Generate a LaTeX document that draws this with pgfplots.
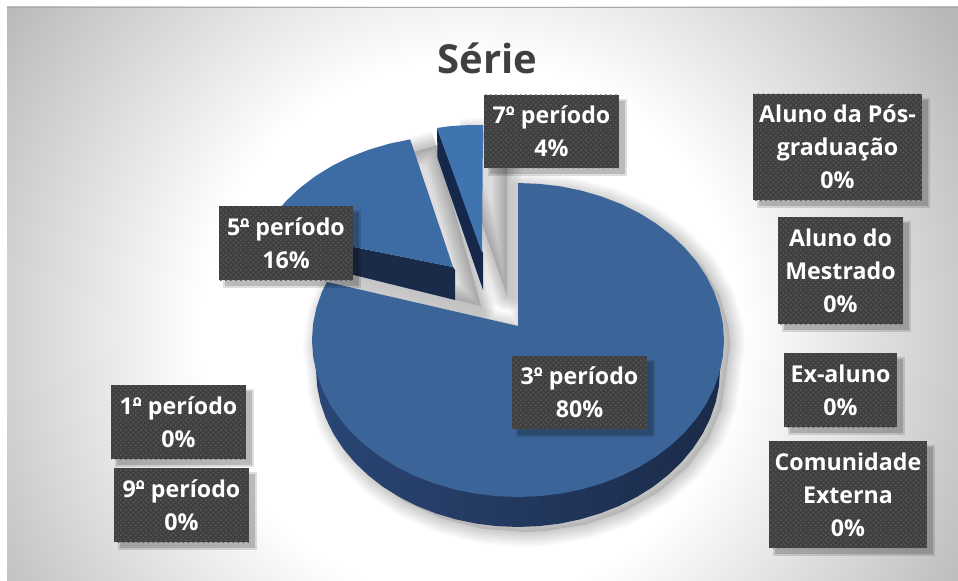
\documentclass[border=0pt]{standalone}
\usepackage{fontspec}
\setmainfont{Open Sans}
\usepackage{pgfplots}
\usepackage{pgfplotstable}
\pgfplotsset{compat=1.18}
\usetikzlibrary{patterns}
\definecolor{topmain}{HTML}{3B6599}
\definecolor{topfive}{HTML}{3D6BA3}
\definecolor{topseven}{HTML}{3F74B0}
\definecolor{sidea}{HTML}{2A4675}
\definecolor{sideb}{HTML}{1B2A48}
\definecolor{sidefive}{HTML}{1A2B4A}
\definecolor{sideseven}{HTML}{15274A}
\definecolor{boxc}{HTML}{3F3F3F}
\definecolor{dotc}{HTML}{5A5A5A}
\definecolor{titlec}{HTML}{404040}
\definecolor{bgedge}{HTML}{B8B8B8}
\definecolor{bgline}{HTML}{ABABAB}
\pgfdeclareradialshading{panelbg}{\pgfpoint{0bp}{0bp}}{%
  color(0bp)=(white); color(7.1bp)=(white); color(15bp)=(bgedge); color(50bp)=(bgedge)}
\pgfdeclarepatternformonly{boxdots}{\pgfqpoint{-1bp}{-1bp}}{\pgfqpoint{6bp}{6bp}}{\pgfqpoint{5bp}{5bp}}{%
  \pgfpathrectangle{\pgfqpoint{0bp}{0bp}}{\pgfqpoint{1.6bp}{1.6bp}}%
  \pgfpathrectangle{\pgfqpoint{2.5bp}{2.5bp}}{\pgfqpoint{1.6bp}{1.6bp}}%
  \pgfusepath{fill}}
% Top face of the 80 % slice (pixel coordinates of the picture)
\pgfplotstableread{
x y
518 326
518 183
539.5 183.9
560.8 186.4
581.7 190.7
601.8 196.6
621 204
639.1 213
655.8 223.3
671.1 235
684.7 247.7
696.4 261.5
706.2 276.1
713.9 291.5
719.5 307.4
722.9 323.6
724 340
722.9 356.4
719.5 372.6
713.9 388.5
706.2 403.9
696.4 418.5
684.7 432.3
671.1 445
655.8 456.7
639.1 467
621 476
601.8 483.4
581.7 489.3
560.8 493.6
539.5 496.1
518 497
496.5 496.1
475.2 493.6
454.3 489.3
434.2 483.4
415 476
396.9 467
380.2 456.7
364.9 445
351.3 432.3
339.6 418.5
329.8 403.9
322.1 388.5
316.5 372.6
313.1 356.4
312 340
313.1 323.6
316.5 307.4
322.1 291.5
327 282
518 326
}\maintop
% Rim of the 80 % slice
\pgfplotstableread{
x y
724 340
720 370
718.9 386.4
715.6 402.6
710.1 418.5
702.5 433.9
692.9 448.5
681.4 462.3
668.1 475
653.2 486.7
636.7 497
619 506
600.2 513.4
580.4 519.3
560 523.6
539.1 526.1
518 527
496.9 526.1
476 523.6
455.6 519.3
435.8 513.4
417 506
399.3 497
382.8 486.7
367.9 475
354.6 462.3
343.1 448.5
333.5 433.9
325.9 418.5
320.4 402.6
317.1 386.4
316 370
312 340
724 340
}\mainrim
% Outline of the whole 80 % slice, for its shadow
\pgfplotstableread{
x y
518 326
518 183
560.8 186.4
601.8 196.6
639.1 213
671.1 235
696.4 261.5
713.9 291.5
722.9 323.6
724 340
720 370
715.6 402.6
702.5 433.9
681.4 462.3
653.2 486.7
619 506
580.4 519.3
539.1 526.1
518 527
476 523.6
435.8 513.4
399.3 497
367.9 475
343.1 448.5
325.9 418.5
317.1 386.4
312 340
316.5 307.4
327 282
518 326
}\mainsil
% 16 % slice
\pgfplotstableread{
x y
453 267
410.2 139.4
389.3 143.7
369.2 149.6
350 157
331.9 166
315.2 176.3
299.9 188
286.3 200.7
274.6 214.5
264.8 229.1
453 267
}\fivetop
\pgfplotstableread{
x y
453 267
264.8 229.1
264.8 253
455 300
455 270
453 267
}\fiverim
\pgfplotstableread{
x y
410.2 139.4
455 300
265 253
264.8 229.1
299.9 188
350 157
410.2 139.4
}\fivesil
% 4 % slice
\pgfplotstableread{
x y
482 253
437 128
448 126.4
460 125.5
471 125
483 125
482 253
}\seventop
\pgfplotstableread{
x y
437 128
437.5 158
483 290
483 253
437 128
}\sevenrim
\pgfplotstableread{
x y
437 128
483 125
483 290
437.5 158
437 128
}\sevensil
\newcommand{\softring}[5]{% table, xshift, yshift, strength, width
  \addplot[draw=black,draw opacity=#4,line width=#5,line join=round,fill=none,xshift=#2,yshift=#3,forget plot] table {#1};
}
\newcommand{\softshadow}[4]{% table, xshift, yshift, strength
  \addplot[draw=none,fill=black,fill opacity=#4*6,xshift=#2,yshift=#3,forget plot] table {#1};
  \softring{#1}{#2}{#3}{#4}{3bp}
  \softring{#1}{#2}{#3}{#4}{6bp}
  \softring{#1}{#2}{#3}{#4}{9bp}
  \softring{#1}{#2}{#3}{#4}{12bp}
  \softring{#1}{#2}{#3}{#4}{15bp}
  \softring{#1}{#2}{#3}{#4}{18bp}
  \softring{#1}{#2}{#3}{#4}{21bp}
  \softring{#1}{#2}{#3}{#4}{24bp}
  \softring{#1}{#2}{#3}{#4}{27bp}
  \softring{#1}{#2}{#3}{#4}{30bp}
}
\newcommand{\ordm}{º\kern-0.40em\rule[0.36em]{0.38em}{0.07em}\kern0.02em}
\newcommand{\lab}[7]{% x0 y0 x1 y1 cx cy text
  \fill[black,opacity=.13] (axis cs:#1+4,#2+4) rectangle (axis cs:#3+8,#4+8);
  \fill[black,opacity=.16] (axis cs:#1+6,#2+6) rectangle (axis cs:#3+6,#4+6);
  \fill[boxc] (axis cs:#1,#2) rectangle (axis cs:#3,#4);
  \fill[pattern=boxdots,pattern color=dotc] (axis cs:#1,#2) rectangle (axis cs:#3,#4);
  \node[text=white,align=center,inner sep=0pt,font=\fontsize{23.2bp}{33bp}\selectfont\bfseries] at (axis cs:#5,#6) {#7};
}
\begin{document}
\begin{tikzpicture}
\begin{axis}[
  scale only axis, width=958bp, height=581bp,
  xmin=0, xmax=958, ymin=0, ymax=581, y dir=reverse,
  hide axis, clip=true]
% page and panel
\fill[white] (axis cs:0,0) rectangle (axis cs:958,581);
\begin{scope}[overlay]
\clip (axis cs:7,7) rectangle (axis cs:958,581);
\fill[shading=panelbg] (axis cs:-480,-620) rectangle (axis cs:1420,1280);
\end{scope}
\fill[bgline] (axis cs:7,7) rectangle (axis cs:958,8.5);
% shadows
\softshadow{\mainsil}{6bp}{-5bp}{.018}
\softshadow{\fivesil}{26bp}{-6bp}{.022}
\softshadow{\sevensil}{24bp}{-6bp}{.022}
% slices
\addplot[draw=none,left color=sidea,right color=sideb,forget plot] table {\mainrim};
\addplot[draw=none,fill=topmain,forget plot] table {\maintop};
\addplot[draw=none,fill=sidefive,forget plot] table {\fiverim};
\addplot[draw=none,fill=topfive,forget plot] table {\fivetop};
\addplot[draw=none,fill=sideseven,forget plot] table {\sevenrim};
\addplot[draw=none,fill=topseven,forget plot] table {\seventop};
% title
\node[text=titlec,inner sep=0pt,font=\fontsize{40bp}{48bp}\selectfont\bfseries] at (axis cs:487.5,58) {Série};
% labels
\lab{484}{95}{619}{168}{551.5}{131.5}{7\ordm{} período\\4\%}
\lab{219}{206}{353}{280}{286}{243}{5\ordm{} período\\16\%}
\lab{512}{356}{647}{429}{579.5}{392.5}{3\ordm{} período\\80\%}
\lab{111}{385}{246}{459}{178.5}{422}{1\ordm{} período\\0\%}
\lab{114}{468}{249}{542}{181.5}{505}{9\ordm{} período\\0\%}
\lab{753}{94}{922}{200}{837.5}{147}{Aluno da Pós-\\graduação\\0\%}
\lab{778}{217}{903}{324}{840.5}{270.5}{Aluno do\\Mestrado\\0\%}
\lab{784}{353}{897}{427}{840.5}{390}{Ex-aluno\\0\%}
\lab{769}{441}{927}{548}{848}{494.5}{Comunidade\\Externa\\0\%}
\end{axis}
\end{tikzpicture}
\end{document}
